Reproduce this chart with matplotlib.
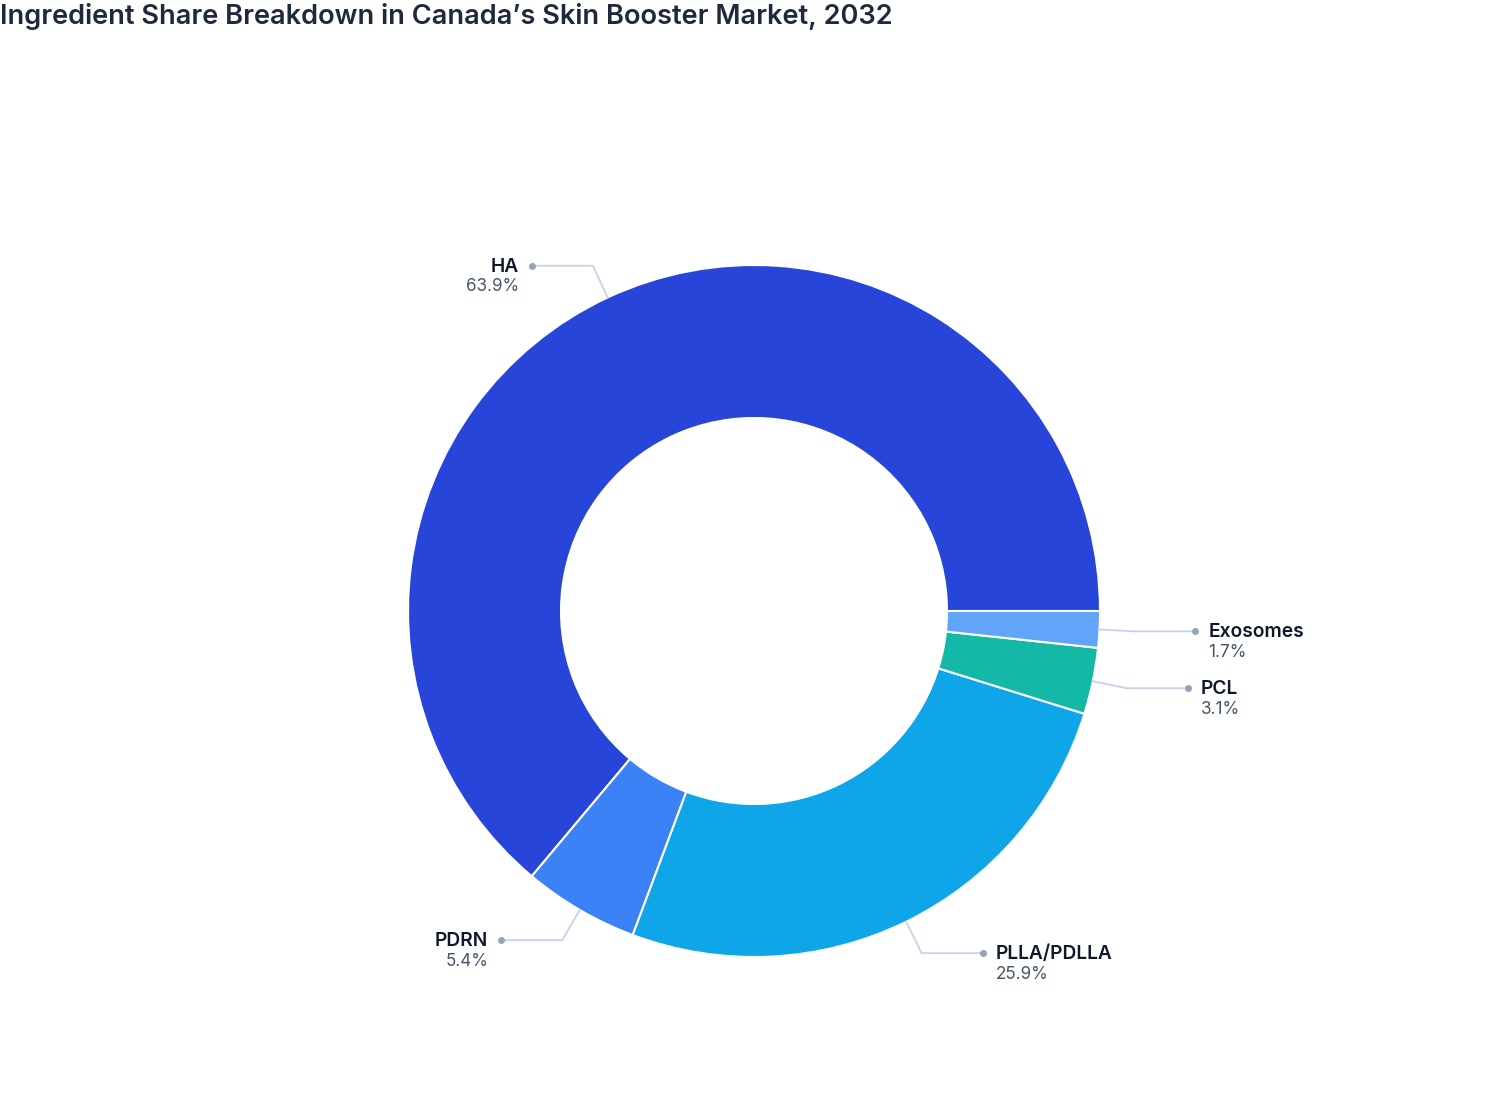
import numpy as np
import matplotlib
matplotlib.use("Agg")
import matplotlib.pyplot as plt

TITLE = "Ingredient Share Breakdown in Canada\u2019s Skin Booster Market, 2032"
LABELS = ["HA", "PDRN", "PLLA/PDLLA", "PCL", "Exosomes"]
SHARES = [63.9, 5.4, 25.9, 3.1, 1.7]
COLORS = ["#2746d9", "#3b82f6", "#0ea5e9", "#14b8a6", "#60a5fa"]

W, H = 1508, 1120
CX, CY = 754, H - 611
R_OUT, R_IN = 346, 193

plt.rcParams["font.family"] = ["Inter", "DejaVu Sans"]

fig = plt.figure(figsize=(W / 100, H / 100), dpi=100)
ax = fig.add_axes([0, 0, 1, 1])

wedges, _ = ax.pie(SHARES, colors=COLORS, startangle=0, counterclock=True,
                   radius=R_OUT, center=(CX, CY), frame=True,
                   wedgeprops=dict(width=R_OUT - R_IN, edgecolor="white", linewidth=1.5))
ax.set_xlim(0, W)
ax.set_ylim(0, H)
ax.axis("off")

# leader lines + labels, anchored on each wedge's mid angle
for w, name, val in zip(wedges, LABELS, SHARES):
    mid = np.deg2rad((w.theta1 + w.theta2) / 2)
    dx, dy = np.cos(mid), np.sin(mid)
    x0, y0 = CX + R_OUT * dx, CY + R_OUT * dy
    x1, y1 = CX + (R_OUT + 35) * dx, CY + (R_OUT + 35) * dy
    side = 1 if dx >= 0 else -1
    x2 = x1 + side * 61
    ax.plot([x0, x1, x2], [y0, y1, y1], color="#c9d4ec", lw=1.4, zorder=1)
    ax.plot([x2], [y1], "o", color="#94a3b8", ms=4, zorder=2)
    ha = "left" if side > 0 else "right"
    tx = x2 + side * 13
    ax.text(tx, y1 - 1, name, ha=ha, va="center", fontsize=13.8, fontweight="semibold", color="#0f172a")
    ax.text(tx, y1 - 21, "{:.1f}%".format(val), ha=ha, va="center", fontsize=12.3, color="#475569")

fig.text(0, 1 - 17 / H, TITLE, ha="left", va="center", fontsize=19.6, fontweight="semibold", color="#1e293b")

fig.savefig("out.png", dpi=100)
